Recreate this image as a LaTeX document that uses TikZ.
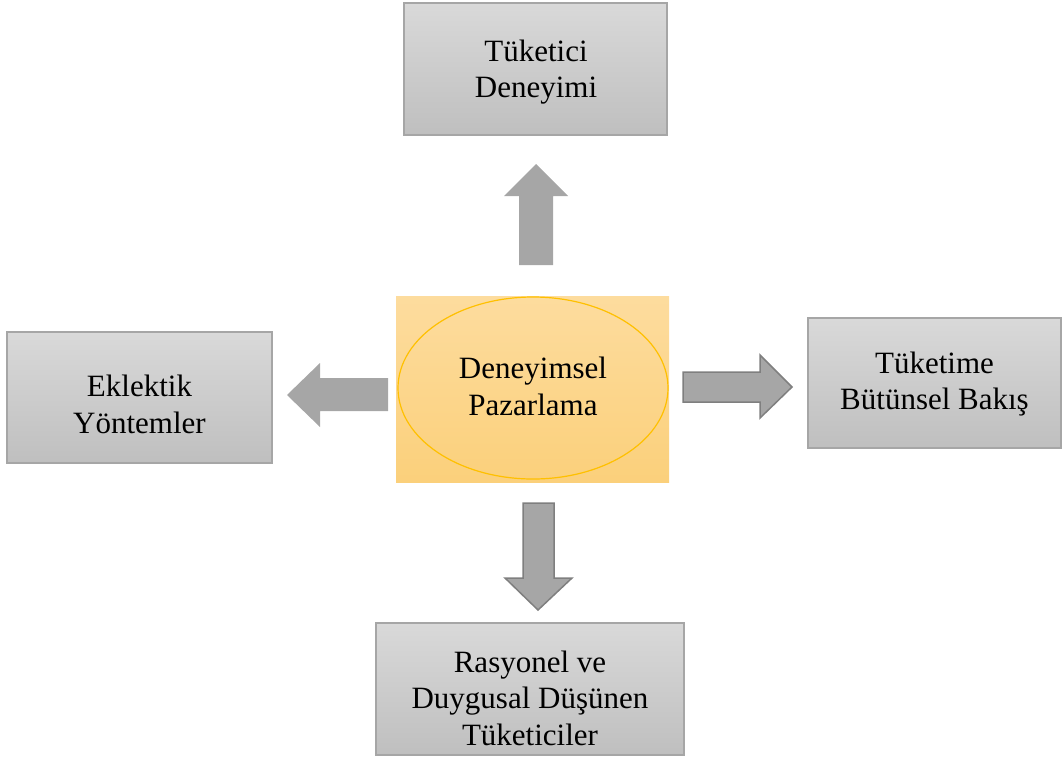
\documentclass[tikz,border=0pt]{standalone}
\usepackage{fontspec}
\setmainfont{Liberation Serif}
\usetikzlibrary{shapes.geometric}
\definecolor{gtop}{HTML}{D9D9D9}
\definecolor{gbot}{HTML}{BFBFBF}
\definecolor{boxline}{HTML}{A6A6A6}
\definecolor{otop}{HTML}{FDDC9E}
\definecolor{obot}{HTML}{FBD07B}
\definecolor{ellline}{HTML}{FFC000}
\definecolor{arrowgray}{HTML}{A6A6A6}
\definecolor{arrowline}{HTML}{7F7F7F}
\begin{document}
\begin{tikzpicture}[x=1pt,y=-1pt,
  graybox/.style={draw=boxline, line width=1.5pt, top color=gtop, bottom color=gbot, inner sep=0pt},
  lbl/.style={align=center, font=\fontsize{31}{36.5}\selectfont, text=black, inner sep=0pt},
  flatarrow/.style={fill=arrowgray, draw=none},
  edgearrow/.style={fill=arrowgray, draw=arrowline, line width=1.5pt, line join=miter},
]
\useasboundingbox (0,0) rectangle (1062,756);

% boxes
\node[graybox, minimum width=263pt, minimum height=132pt] (topbox) at (535.5,69) {};
\node[graybox, minimum width=265pt, minimum height=131pt] (leftbox) at (139.5,397.5) {};
\node[graybox, minimum width=253pt, minimum height=130pt] (rightbox) at (934.5,383) {};
\node[graybox, minimum width=308pt, minimum height=132pt] (bottombox) at (530,689) {};

% centre
\node[top color=otop, bottom color=obot, minimum width=273pt, minimum height=186pt, inner sep=0pt] (centre) at (532.5,389) {};
\node[draw=ellline, line width=1.2pt, ellipse, minimum width=270pt, minimum height=182pt, inner sep=0pt] (ell) at (533,388) {};

% labels
\node[lbl] (toptext) at (536,72) {Tüketici\\Deneyimi};
\node[lbl] (lefttext) at (139.5,404.6) {Eklektik\\Yöntemler};
\node[lbl] (centretext) at (533,386.6) {Deneyimsel\\Pazarlama};
\node[lbl] (righttext) at (934.5,384) {Tüketime\\Bütünsel Bakış};
\node[lbl] (bottomtext) at (530,698) {Rasyonel ve\\Duygusal Düşünen\\Tüketiciler};

% block arrows
\fill[flatarrow] (519,265) -- (519,196) -- (504,196) -- (536,164) -- (568,196) -- (553,196) -- (553,265) -- cycle;
\fill[flatarrow] (388,378) -- (320,378) -- (320,363) -- (287,395) -- (320,427) -- (320,411) -- (388,411) -- cycle;
\draw[edgearrow] (683,372) -- (760,372) -- (760,355) -- (792,387) -- (760,418) -- (760,402) -- (683,402) -- cycle;
\draw[edgearrow] (523,503) -- (554,503) -- (554,578) -- (572,578) -- (538,610) -- (505,578) -- (523,578) -- cycle;
\end{tikzpicture}
\end{document}
